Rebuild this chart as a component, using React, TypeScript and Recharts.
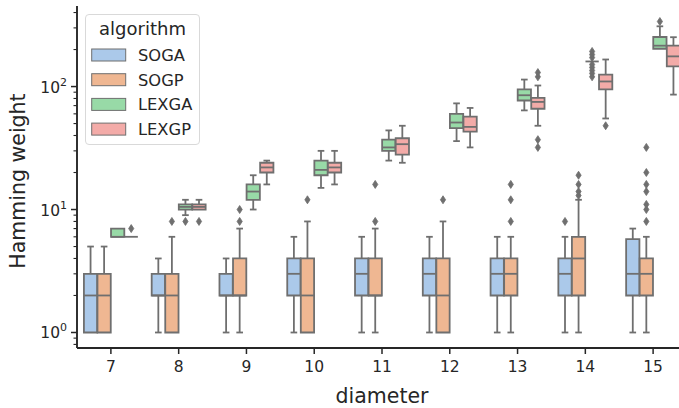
import React from "react";
import {
  ComposedChart,
  Scatter,
  XAxis,
  YAxis,
  ReferenceArea,
  ReferenceLine,
  Legend,
  Label,
} from "recharts";

const FONT = "'DejaVu Sans', sans-serif";
const INK = "#262626";
const GRAY = "#6f6f6f";

const diameters = [7, 8, 9, 10, 11, 12, 13, 14, 15];
const algorithms = ["SOGA", "SOGP", "LEXGA", "LEXGP"];
const colors = ["#abc9ea", "#efb792", "#98daa7", "#f3aba8"];

// [whisker low, q1, median, q3, whisker high] for each diameter
const sogaStats = [
  [1, 1, 2, 3, 5], [1, 2, 2, 3, 4], [1, 2, 2, 3, 4], [1, 2, 3, 4, 6], [1, 2, 3, 4, 6],
  [1, 2, 3, 4, 6], [1, 2, 3, 4, 6], [1, 2, 3, 4, 6], [1, 2, 3, 5.75, 7],
];
const sogpStats = [
  [1, 1, 2, 3, 5], [1, 1, 2, 3, 6], [1, 2, 2, 4, 7], [1, 1, 2, 4, 8], [1, 2, 2, 4, 7],
  [1, 1, 2, 4, 8], [1, 2, 3, 4, 6], [1, 2, 4, 6, 12], [1, 2, 3, 4, 6],
];
const lexgaStats = [
  [6, 6, 6, 7, 7], [9, 10, 10.5, 11, 12], [10, 12, 14, 16, 19], [15, 19, 21, 25, 30],
  [25, 30, 32, 37, 44], [36, 46, 51, 60, 73], [64, 77, 85, 95, 114],
  [160, 160, 160, 160, 160], [203, 203, 215, 253, 309],
];
const lexgpStats = [
  [6, 6, 6, 6, 6], [10, 10, 10.5, 11, 12], [16, 20, 22, 24, 25], [16, 20, 22, 24, 30],
  [24, 28, 34, 38, 48], [32, 43, 47, 57, 67], [48, 66, 75, 81, 102],
  [55, 95, 110, 125, 166], [86, 146, 176, 215, 252],
];

// fliers per diameter
const sogaOutliers = [[], [], [], [], [], [], [], [8], []];
const sogpOutliers = [
  [], [8], [8, 10], [12], [8, 16], [12], [8, 12, 16], [13, 14, 16, 19],
  [8, 10, 11, 14, 16, 20, 32],
];
const lexgaOutliers = [
  [], [8], [], [], [], [], [], [120, 128, 135, 143, 151, 172, 182, 193], [338],
];
const lexgpOutliers = [[7], [8], [], [], [], [], [32, 37, 120, 130], [48], []];

const allStats = [sogaStats, sogpStats, lexgaStats, lexgpStats];
const allOutliers = [sogaOutliers, sogpOutliers, lexgaOutliers, lexgpOutliers];

const xTicks = diameters;
const yTicks = [
  0.8, 0.9, 1, 2, 3, 4, 5, 6, 7, 8, 9, 10, 20, 30, 40, 50, 60, 70, 80, 90, 100, 200, 300, 400,
];

const BOX_HALF = 0.098;
const CAP_HALF = 0.049;
const hueOffset = (i: number) => (i - 1.5) * 0.2;

const XTick = ({ x, y, payload }: any) => (
  <g>
    <line x1={x} x2={x} y1={y} y2={y + 6} stroke={INK} strokeWidth={1.5} />
    <text x={x} y={y + 24} textAnchor="middle" fontSize={15.5} fill={INK} fontFamily={FONT}>
      {payload.value}
    </text>
  </g>
);

const YTick = ({ x, y, payload }: any) => {
  const exp = Math.log10(payload.value);
  const major = Math.abs(exp - Math.round(exp)) < 1e-9;
  return (
    <g>
      <line
        x1={x - (major ? 6 : 3.5)}
        x2={x}
        y1={y}
        y2={y}
        stroke={INK}
        strokeWidth={major ? 1.5 : 1.1}
      />
      {major && (
        <text x={x - 10} y={y + 6} textAnchor="end" fontSize={15.5} fill={INK} fontFamily={FONT}>
          10
          <tspan dy={-7} fontSize={11}>
            {Math.round(exp)}
          </tspan>
        </text>
      )}
    </g>
  );
};

const Diamond = (props: any) => {
  const { cx, cy } = props;
  if (cx == null || cy == null) return <g />;
  return (
    <polygon
      points={`${cx},${cy - 4} ${cx + 2.6},${cy} ${cx},${cy + 4} ${cx - 2.6},${cy}`}
      fill={GRAY}
      stroke={GRAY}
      strokeWidth={0.8}
    />
  );
};

const LegendBox = () => (
  <svg width={118} height={134} style={{ display: "block", fontFamily: FONT }}>
    <rect x={0.5} y={0.5} width={114} height={130} rx={3.5} fill="#fff" fillOpacity={0.8} stroke="#d9d9d9" />
    <text x={57.5} y={21} textAnchor="middle" fontSize={18} fill={INK}>
      algorithm
    </text>
    {algorithms.map((a, i) => (
      <g key={a}>
        <rect x={6.7} y={35 + i * 24.7} width={34} height={12} fill={colors[i]} stroke={GRAY} strokeWidth={1} />
        <text x={53} y={47 + i * 24.7} fontSize={16.3} fill={INK}>
          {a}
        </text>
      </g>
    ))}
  </svg>
);

function boxElements() {
  const out: React.ReactElement[] = [];
  algorithms.forEach((alg, h) => {
    allStats[h].forEach((s, d) => {
      const [lo, q1, med, q3, hi] = s;
      const cx = diameters[d] + hueOffset(h);
      const key = `${alg}-${d}`;
      const line = { stroke: GRAY, strokeWidth: 1.8 };
      if (hi > q3) {
        out.push(<ReferenceLine key={key + "wh"} segment={[{ x: cx, y: q3 }, { x: cx, y: hi }]} {...line} />);
        out.push(
          <ReferenceLine key={key + "ch"} segment={[{ x: cx - CAP_HALF, y: hi }, { x: cx + CAP_HALF, y: hi }]} {...line} />
        );
      }
      if (lo < q1) {
        out.push(<ReferenceLine key={key + "wl"} segment={[{ x: cx, y: lo }, { x: cx, y: q1 }]} {...line} />);
        out.push(
          <ReferenceLine key={key + "cl"} segment={[{ x: cx - CAP_HALF, y: lo }, { x: cx + CAP_HALF, y: lo }]} {...line} />
        );
      }
      out.push(
        <ReferenceArea
          key={key + "box"}
          x1={cx - BOX_HALF}
          x2={cx + BOX_HALF}
          y1={q1}
          y2={q3}
          fill={colors[h]}
          fillOpacity={1}
          stroke={GRAY}
          strokeWidth={1.8}
        />
      );
      out.push(
        <ReferenceLine
          key={key + "med"}
          segment={[{ x: cx - BOX_HALF, y: med }, { x: cx + BOX_HALF, y: med }]}
          {...line}
        />
      );
    });
  });
  return out;
}

export default function App() {
  const flierData = algorithms.map((_, h) =>
    allOutliers[h].flatMap((vals, d) => vals.map((v) => ({ x: diameters[d] + hueOffset(h), y: v })))
  );

  return (
    <div style={{ position: "absolute", left: 0, top: 0, width: 679, height: 408, overflow: "hidden" }}>
      <ComposedChart width={700} height={408} margin={{ top: 6, right: 13, left: 0, bottom: 0 }}>
        <XAxis
          type="number"
          dataKey="x"
          domain={[6.5, 15.5]}
          allowDataOverflow
          ticks={xTicks}
          interval={0}
          tickSize={0}
          tickMargin={0}
          tickLine={false}
          tick={<XTick />}
          height={60}
          axisLine={{ stroke: INK, strokeWidth: 1.9 }}
        >
          <Label
            content={() => (
              <text x={382} y={403} textAnchor="middle" fontSize={20.5} fill={INK} fontFamily={FONT}>
                diameter
              </text>
            )}
          />
        </XAxis>
        <YAxis
          type="number"
          scale="log"
          domain={[0.748, 452]}
          allowDataOverflow
          ticks={yTicks}
          interval={0}
          tickSize={0}
          tickMargin={0}
          tickLine={false}
          tick={<YTick />}
          width={77}
          axisLine={{ stroke: INK, strokeWidth: 1.9 }}
        >
          <Label
            content={() => (
              <text
                x={25}
                y={181}
                textAnchor="middle"
                fontSize={20.5}
                fill={INK}
                fontFamily={FONT}
                transform="rotate(-90 25 181)"
              >
                Hamming weight
              </text>
            )}
          />
        </YAxis>
        {boxElements()}
        {algorithms.map((alg, h) => (
          <Scatter
            key={alg}
            name={alg}
            data={flierData[h]}
            dataKey="y"
            fill={GRAY}
            shape={<Diamond />}
            isAnimationActive={false}
          />
        ))}
        <Legend
          layout="vertical"
          align="center"
          verticalAlign="middle"
          wrapperStyle={{ left: 85, top: 14, width: 118, height: 134 }}
          content={() => <LegendBox />}
        />
      </ComposedChart>
    </div>
  );
}
